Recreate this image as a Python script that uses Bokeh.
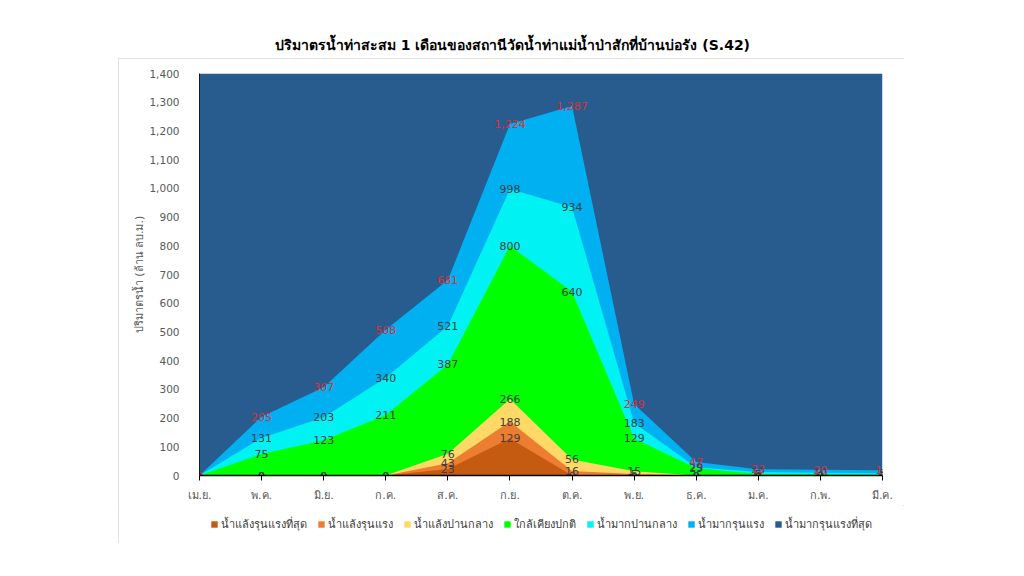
from bokeh.plotting import figure
from bokeh.models import (ColumnDataSource, FixedTicker, NumeralTickFormatter, Legend,
                          LegendItem, Range1d, Spacer)
from bokeh.layouts import column, row
from bokeh.core.properties import value
from bokeh.embed import file_html
from bokeh.resources import INLINE

# ---------------- data ----------------
months = ["เม.ย.", "พ.ค.", "มิ.ย.", "ก.ค.", "ส.ค.", "ก.ย.", "ต.ค.", "พ.ย.", "ธ.ค.", "ม.ค.", "ก.พ.", "มี.ค."]
series_names = ["น้ำแล้งรุนแรงที่สุด", "น้ำแล้งรุนแรง", "น้ำแล้งปานกลาง", "ใกล้เคียงปกติ",
                "น้ำมากปานกลาง", "น้ำมากรุนแรง", "น้ำมากรุนแรงที่สุด"]
s1 = [0, 0, 0, 0, 23, 129, 0, 0, 0, 0, 0, 0]
s2 = [0, 0, 0, 0, 43, 188, 16, 5, 0, 0, 0, 0]
s3 = [0, 0, 0, 0, 76, 266, 56, 15, 0, 0, 0, 0]
s4 = [0, 75, 123, 211, 387, 800, 640, 129, 25, 5, 4, 3]
s5 = [0, 131, 203, 340, 521, 998, 934, 183, 29, 12, 10, 8]
s6 = [0, 205, 307, 508, 681, 1224, 1287, 249, 47, 22, 20, 18]
s7 = [1400, 1400, 1400, 1400, 1400, 1400, 1400, 1400, 1400, 1400, 1400, 1400]
y_ticks = [0, 100, 200, 300, 400, 500, 600, 700, 800, 900, 1000, 1100, 1200, 1300, 1400]
title_text = "ปริมาตรน้ำท่าสะสม 1 เดือนของสถานีวัดน้ำท่าแม่น้ำป่าสักที่บ้านบ่อรัง (S.42)"
y_label = "ปริมาตรน้ำ (ล้าน ลบ.ม.)"

colors = ["#C55A11", "#ED7D31", "#FFD966", "#00FF00", "#00F2F2", "#00B0F0", "#285C8F"]
label_colors = ["#404040", "#404040", "#404040", "#404040", "#404040", "#D8303C"]

FONT = "Tahoma, DejaVu Sans, sans-serif"

# ---------------- title strip ----------------
PAGE_W = 1016
TOP_H = 58
tfig = figure(width=PAGE_W, height=TOP_H, output_backend="svg", toolbar_location=None,
              x_range=Range1d(0, PAGE_W), y_range=Range1d(0, TOP_H),
              x_axis_type=None, y_axis_type=None, min_border=0)
tfig.outline_line_color = None
tfig.xgrid.visible = False
tfig.ygrid.visible = False
tfig.text(x=[512], y=[TOP_H - 44], text=[title_text], text_align="center",
          text_baseline="middle", text_font=value(FONT), text_font_size="14px",
          text_font_style="bold", text_color="#000000")

# ---------------- chart ----------------
W, H = 786, 447
ML, MR, MT, MB = 81, 22, 15, 30
p = figure(width=W, height=H, output_backend="svg", toolbar_location=None,
           x_range=Range1d(0, len(months) - 1), y_range=Range1d(0, 1400),
           min_border_left=ML, min_border_right=MR, min_border_top=MT, min_border_bottom=MB)
p.background_fill_color = "white"
p.border_fill_color = "white"
p.outline_line_color = None
p.xgrid.visible = False
p.ygrid.visible = False

xs = list(range(len(months)))
all_series = [s1, s2, s3, s4, s5, s6, s7]

for i in range(6, -1, -1):
    src = ColumnDataSource(dict(x=xs, y=all_series[i]))
    p.varea(x="x", y1=0, y2="y", source=src, fill_color=colors[i])

# data labels
lx, ly, lt, lc = [], [], [], []
for i in range(6):
    for j, v in enumerate(all_series[i]):
        lx.append(j)
        ly.append(v)
        lt.append(f"{v:,}")
        lc.append(label_colors[i])
lsrc = ColumnDataSource(dict(x=lx, y=ly, t=lt, c=lc))
p.text(x="x", y="y", text="t", source=lsrc, text_color="c", text_align="center",
       text_baseline="middle", text_font=value(FONT), text_font_size="11px")

# axes
p.xaxis.ticker = FixedTicker(ticks=xs)
p.xaxis.major_label_overrides = {i: m for i, m in enumerate(months)}
p.xaxis.minor_tick_line_color = None
p.xaxis.major_tick_in = 0
p.xaxis.major_tick_out = 5
p.xaxis.major_tick_line_color = "black"
p.xaxis.axis_line_color = "black"
p.xaxis.axis_line_width = 1.5
p.xaxis.major_label_standoff = 8
p.xaxis.major_label_text_font = FONT
p.xaxis.major_label_text_font_size = "11px"
p.xaxis.major_label_text_color = "#595959"

p.yaxis.ticker = FixedTicker(ticks=y_ticks)
p.yaxis.formatter = NumeralTickFormatter(format="0,0")
p.yaxis.minor_tick_line_color = None
p.yaxis.major_tick_line_color = None
p.yaxis.axis_line_color = "#1a1a1a"
p.yaxis.major_label_standoff = 14
p.yaxis.major_label_text_font = FONT
p.yaxis.major_label_text_font_size = "10.5px"
p.yaxis.major_label_text_color = "#595959"
p.yaxis.axis_label = y_label
p.yaxis.axis_label_text_font = FONT
p.yaxis.axis_label_text_font_size = "11px"
p.yaxis.axis_label_text_font_style = "normal"
p.yaxis.axis_label_text_color = "#595959"
p.yaxis.axis_label_standoff = 0

# ---------------- legend strip ----------------
LH = 38
lfig = figure(width=W, height=LH, output_backend="svg", toolbar_location=None,
              x_range=Range1d(0, 1), y_range=Range1d(0, 1),
              x_axis_type=None, y_axis_type=None, min_border=0)
lfig.outline_line_color = None
lfig.xgrid.visible = False
lfig.ygrid.visible = False
proxies = []
for i in range(7):
    # one off-screen quad per series, only so the legend has a swatch to draw
    proxies.append(lfig.quad(left=[-3], right=[-2], top=[-2], bottom=[-3],
                             fill_color=colors[i], line_color=None))
items = [LegendItem(label=series_names[i], renderers=[proxies[i]]) for i in range(7)]
legend = Legend(items=items, orientation="horizontal", location="center",
                label_text_font=FONT, label_text_font_size="11px", label_text_color="#404040",
                glyph_width=8, glyph_height=8, spacing=10, label_standoff=3,
                label_height=10,
                padding=0, margin=0, border_line_color=None, background_fill_alpha=0)
lfig.add_layout(legend, "center")

box = column(p, lfig, styles={"outline": "1px solid #d9d9d9", "outline-offset": "-1px"})
layout = column(tfig, row(Spacer(width=118, height=H + LH), box))
open("out.html", "w").write(file_html(layout, INLINE))
